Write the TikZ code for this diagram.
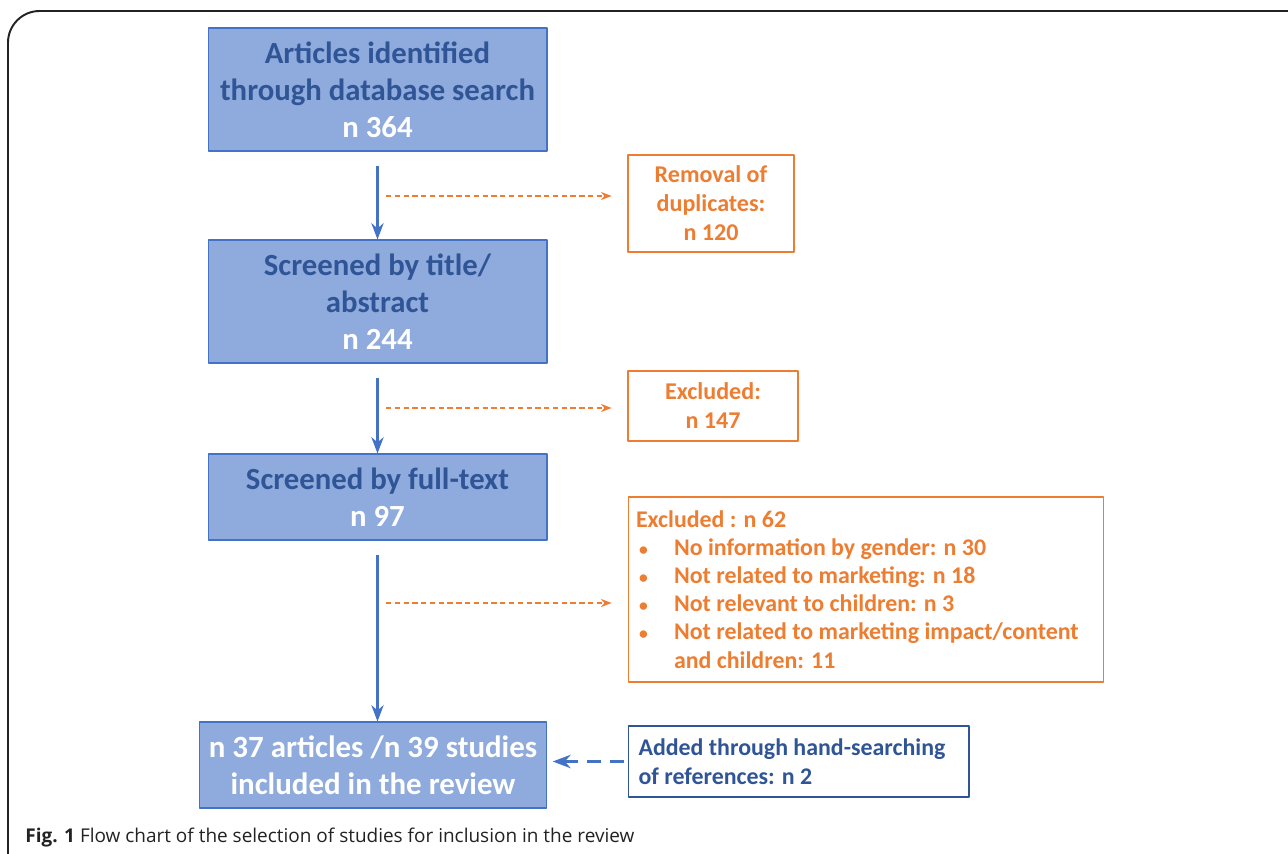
\documentclass[tikz,border=0pt]{standalone}
\usepackage{fontspec}
\setmainfont{Carlito}
\newfontfamily\capfont{Open Sans}
\usetikzlibrary{arrows.meta}
\definecolor{boxfill}{HTML}{8FAADC}
\definecolor{boxline}{HTML}{4472C4}
\definecolor{darkblue}{HTML}{2F5597}
\definecolor{orange}{HTML}{ED7D31}
\definecolor{framegray}{HTML}{222222}
\tikzset{
  every picture/.style={
    line join=round,
    >=Stealth,
  },
  stagebox/.style={draw=boxline, fill=boxfill, line width=0.6pt,
    align=center, inner sep=0pt, font=\fontsize{17.5}{21}\bfseries,
    text=darkblue},
  outbox/.style={draw=orange, fill=white, line width=0.6pt,
    align=center, inner sep=0pt, font=\fontsize{13.7}{16.5}\bfseries,
    text=orange},
  flow/.style={->, boxline, line width=1.4pt, shorten <=6\pgflinewidth},
  sidearrow/.style={->, orange, line width=0.7pt, dash pattern=on 3pt off 2pt,
    shorten >=9pt},
}
\newcommand{\excitem}{\hspace*{0.06cm}\makebox[0.7cm][l]{\fontsize{10}{10}\selectfont\textbullet}}

\begin{document}
\begin{tikzpicture}[x=0.02cm, y=-0.02cm]
    \useasboundingbox (0,0) rectangle (1288,854);
    % Frame
    \draw[framegray, line width=1.1pt, rounded corners=18] (8,860) -- (8,11) -- (1300,11);
    % Main stages
    \node[stagebox, minimum width=6.78cm, minimum height=2.46cm] (ident) at (377.5,89.5)
      {Articles identified\\through database search\\\textcolor{white}{n 364}};
    \node[stagebox, minimum width=6.78cm, minimum height=2.46cm] (title) at (377.5,301.5)
      {Screened by title/\\abstract\\\textcolor{white}{n 244}};
    \node[stagebox, minimum width=6.78cm, minimum height=1.72cm] (full) at (377.5,497)
      {Screened by full-text\\\textcolor{white}{n 97}};
    \node[stagebox, text=white, minimum width=6.96cm, minimum height=1.72cm,
      font=\fontsize{17.6}{21}\bfseries] (incl) at (373,765)
      {n 37 articles /n 39 studies\\included in the review};
    % Removed records
    \node[outbox, minimum width=3.32cm, minimum height=1.94cm] (dupl) at (711,203.5)
      {Removal of\\duplicates:\\n 120};
    \node[outbox, minimum width=3.4cm, minimum height=1.4cm] (excl) at (713,406)
      {Excluded:\\n 147};
    \node[outbox, minimum width=9.52cm, minimum height=3.7cm, align=left,
      font=\fontsize{13.6}{16}\bfseries] (reasons) at (866,589.5)
      {\begin{minipage}{9.2cm}
        Excluded : n 62\\
        \excitem No information by gender: n 30\\
        \excitem Not related to marketing: n 18\\
        \excitem Not relevant to children: n 3\\
        \excitem Not related to marketing impact/content\\
        \hspace*{0.76cm}and children: 11
      \end{minipage}};
    % Hand search
    \node[outbox, draw=darkblue, text=darkblue, align=left, minimum width=6.82cm,
      minimum height=1.42cm, font=\fontsize{13.6}{16.5}\bfseries] (hand) at (798.5,761.5)
      {\begin{minipage}{6.4cm}
        Added through hand-searching\\of references: n 2
      \end{minipage}};
    % Flow arrows
    \draw[flow] (ident.south) -- (title.north);
    \draw[flow] (title.south) -- (full.north);
    \draw[flow] (full.south) -- (full.south |- incl.north);
    % Side arrows
    \coordinate (s1) at (386,196);
    \coordinate (s2) at (386,408);
    \coordinate (s3) at (386,603);
    \draw[sidearrow] (s1) -- (s1 -| dupl.west);
    \draw[sidearrow] (s2) -- (s2 -| excl.west);
    \draw[sidearrow] (s3) -- (s3 -| reasons.west);
    \draw[->, boxline, line width=1.6pt, dash pattern=on 8pt off 5pt, shorten >=3pt,
      shorten <=2pt] (hand.west) -- (hand.west -| incl.east);
    % Caption
    \node[anchor=base west, inner sep=0pt, text=framegray,
      font=\capfont\fontsize{10.8}{13}\selectfont] (cap) at (25,842)
      {\textbf{Fig. 1} Flow chart of the selection of studies for inclusion in the review};
\end{tikzpicture}
\end{document}
